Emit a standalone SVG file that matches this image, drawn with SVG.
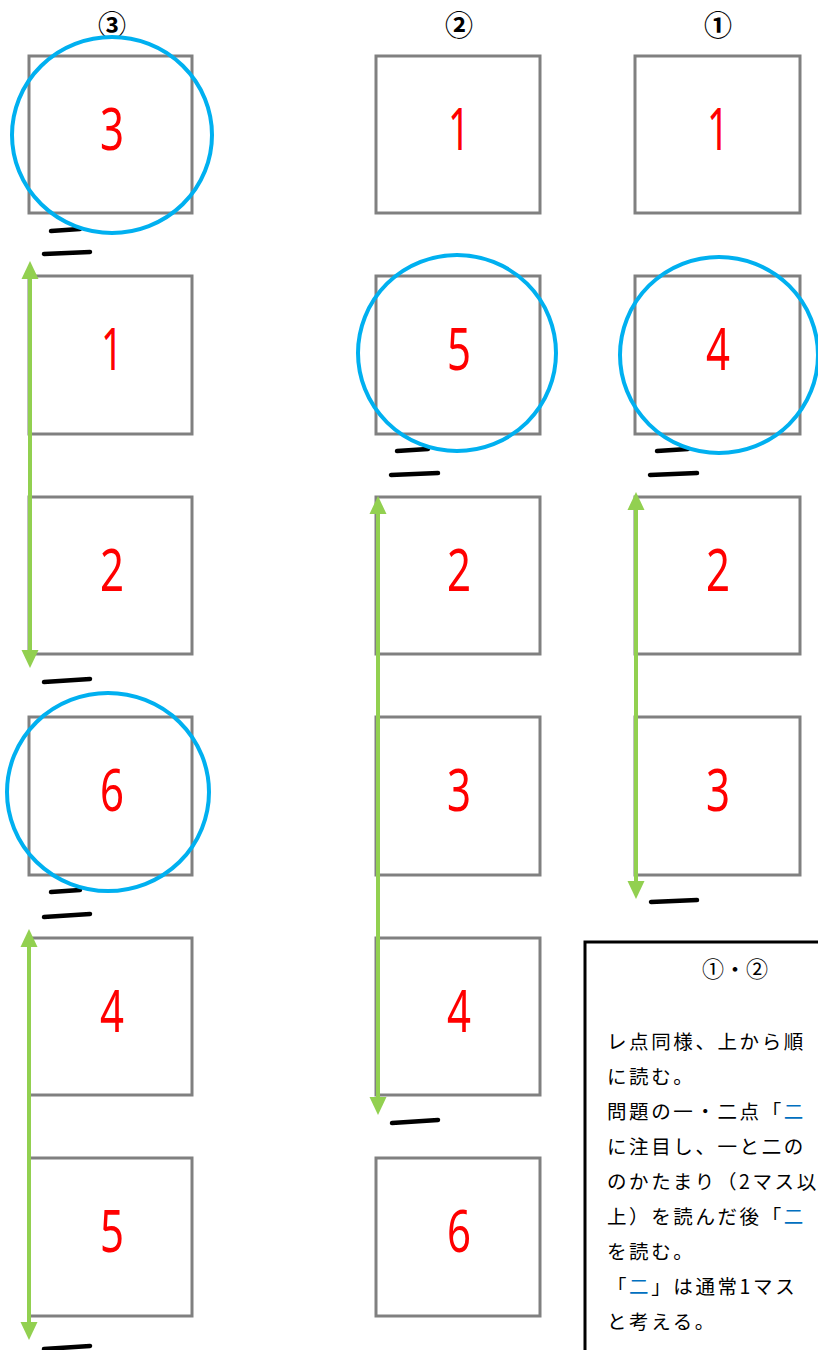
<svg xmlns="http://www.w3.org/2000/svg" width="818" height="1350" viewBox="0 0 818 1350">
<style>
.box{fill:none;stroke:#808080;stroke-width:3}
.num{font-family:"Noto Sans","DejaVu Sans",sans-serif;font-weight:400;font-size:59px;fill:#ff0000;text-anchor:middle}
.hdr{font-family:"Noto Sans CJK JP","DejaVu Sans",sans-serif;font-weight:700;font-size:28px;fill:#000;text-anchor:middle}
.mark{stroke:#000;stroke-width:4.5;stroke-linecap:round;fill:none}
.ring{fill:none;stroke:#00b0f0;stroke-width:4}
.arr{stroke:#92d050;stroke-width:4;fill:none;marker-start:url(#ah);marker-end:url(#ah)}
.note{font-family:"Noto Sans CJK JP",sans-serif;font-size:19.5px;fill:#000;letter-spacing:2.6px}
.blue{fill:#0070c0}
</style>
<defs>
<marker id="ah" markerUnits="userSpaceOnUse" markerWidth="18" markerHeight="18" refX="2" refY="8.5" orient="auto-start-reverse" viewBox="0 0 18 17">
<path d="M0,0 L18,8.5 L0,17 Z" fill="#92d050"/>
</marker>
</defs>
<rect width="818" height="1350" fill="#fff"/>
<g id="headers">
<text class="hdr" x="112" y="36">③</text>
<text class="hdr" x="459" y="36">②</text>
<text class="hdr" x="718" y="36">①</text>
</g>
<g id="col3">
<g id="c3r1"><rect class="box" x="29" y="56" width="163" height="157"/><text class="num" x="112" y="150" textLength="24" lengthAdjust="spacingAndGlyphs">3</text></g>
<g id="c3r2"><rect class="box" x="29" y="276" width="163" height="158"/><text class="num" x="112" y="370" textLength="22" lengthAdjust="spacingAndGlyphs">1</text></g>
<g id="c3r3"><rect class="box" x="29" y="497" width="163" height="157"/><text class="num" x="112" y="591" textLength="24" lengthAdjust="spacingAndGlyphs">2</text></g>
<g id="c3r4"><rect class="box" x="29" y="717" width="163" height="158"/><text class="num" x="112" y="811" textLength="24" lengthAdjust="spacingAndGlyphs">6</text></g>
<g id="c3r5"><rect class="box" x="29" y="938" width="163" height="157"/><text class="num" x="112" y="1032" textLength="24" lengthAdjust="spacingAndGlyphs">4</text></g>
<g id="c3r6"><rect class="box" x="29" y="1158" width="163" height="158"/><text class="num" x="112" y="1252" textLength="24" lengthAdjust="spacingAndGlyphs">5</text></g>
</g>
<g id="col2">
<g id="c2r1"><rect class="box" x="376" y="56" width="164" height="157"/><text class="num" x="459" y="150" textLength="22" lengthAdjust="spacingAndGlyphs">1</text></g>
<g id="c2r2"><rect class="box" x="376" y="276" width="164" height="158"/><text class="num" x="459" y="370" textLength="24" lengthAdjust="spacingAndGlyphs">5</text></g>
<g id="c2r3"><rect class="box" x="376" y="497" width="164" height="157"/><text class="num" x="459" y="591" textLength="24" lengthAdjust="spacingAndGlyphs">2</text></g>
<g id="c2r4"><rect class="box" x="376" y="717" width="164" height="158"/><text class="num" x="459" y="811" textLength="24" lengthAdjust="spacingAndGlyphs">3</text></g>
<g id="c2r5"><rect class="box" x="376" y="938" width="164" height="157"/><text class="num" x="459" y="1032" textLength="24" lengthAdjust="spacingAndGlyphs">4</text></g>
<g id="c2r6"><rect class="box" x="376" y="1158" width="164" height="158"/><text class="num" x="459" y="1252" textLength="24" lengthAdjust="spacingAndGlyphs">6</text></g>
</g>
<g id="col1">
<g id="c1r1"><rect class="box" x="635" y="56" width="165" height="157"/><text class="num" x="718" y="150" textLength="22" lengthAdjust="spacingAndGlyphs">1</text></g>
<g id="c1r2"><rect class="box" x="635" y="276" width="165" height="158"/><text class="num" x="718" y="370" textLength="24" lengthAdjust="spacingAndGlyphs">4</text></g>
<g id="c1r3"><rect class="box" x="635" y="497" width="165" height="157"/><text class="num" x="718" y="591" textLength="24" lengthAdjust="spacingAndGlyphs">2</text></g>
<g id="c1r4"><rect class="box" x="635" y="717" width="165" height="158"/><text class="num" x="718" y="811" textLength="24" lengthAdjust="spacingAndGlyphs">3</text></g>
</g>
<g id="marks">
<line class="mark" x1="51" y1="231" x2="80" y2="229"/>
<line class="mark" x1="44" y1="254" x2="90" y2="252"/>
<line class="mark" x1="44" y1="682" x2="90" y2="679"/>
<line class="mark" x1="51" y1="892" x2="80" y2="890"/>
<line class="mark" x1="44" y1="917" x2="90" y2="914"/>
<line class="mark" x1="44" y1="1349" x2="90" y2="1346"/>
<line class="mark" x1="397" y1="451" x2="428" y2="449"/>
<line class="mark" x1="391" y1="475" x2="438" y2="473"/>
<line class="mark" x1="392" y1="1123" x2="438" y2="1120"/>
<line class="mark" x1="657" y1="451" x2="688" y2="449"/>
<line class="mark" x1="650" y1="475" x2="697" y2="473"/>
<line class="mark" x1="651" y1="902" x2="697" y2="900"/>
</g>
<g id="circles">
<ellipse class="ring" cx="112" cy="135" rx="100" ry="98"/>
<ellipse class="ring" cx="108" cy="792" rx="101" ry="99"/>
<ellipse class="ring" cx="457" cy="353" rx="99" ry="98"/>
<ellipse class="ring" cx="719" cy="355" rx="99" ry="98"/>
</g>
<g id="connectors">
<line class="arr" x1="30" y1="277" x2="30" y2="652"/>
<line class="arr" x1="29" y1="945" x2="29" y2="1324"/>
<line class="arr" x1="378" y1="512" x2="378" y2="1099"/>
<line class="arr" x1="636" y1="508" x2="636" y2="883"/>
</g>
<g id="notebox">
<rect x="585" y="942" width="240" height="420" fill="#fff" stroke="#000" stroke-width="3"/>
<text x="735" y="977" text-anchor="middle" style="font-family:'Noto Sans CJK JP',sans-serif;font-size:22px">①・②</text>
<text class="note" x="607" y="1049">レ点同様、上から順</text>
<text class="note" x="607" y="1084">に読む。</text>
<text class="note" x="607" y="1119">問題の一・二点「<tspan class="blue">二</tspan></text>
<text class="note" x="607" y="1154">に注目し、一と二の</text>
<text class="note" x="607" y="1189">のかたまり（2マス以</text>
<text class="note" x="607" y="1224">上）を読んだ後「<tspan class="blue">二</tspan></text>
<text class="note" x="607" y="1259">を読む。</text>
<text class="note" x="607" y="1294">「<tspan class="blue">二</tspan>」は通常1マス</text>
<text class="note" x="607" y="1329">と考える。</text>
</g>
</svg>
